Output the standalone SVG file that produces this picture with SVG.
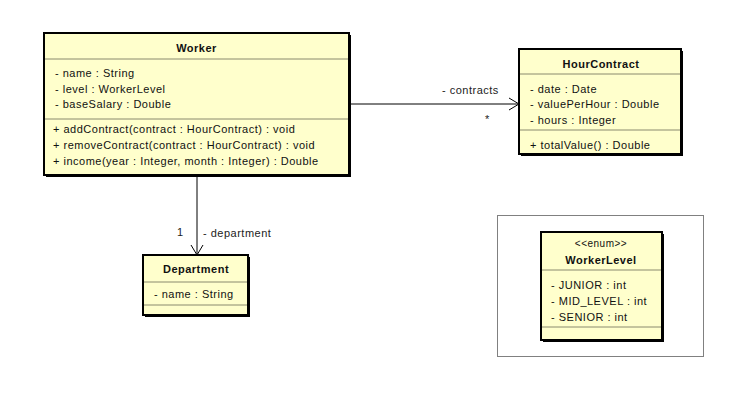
<svg xmlns="http://www.w3.org/2000/svg" width="734" height="405" viewBox="0 0 734 405">
<defs>
<style>
.box{fill:#FFFFCC;stroke:#000;stroke-width:2}
.shadow{fill:#000}
.sep{stroke:#8a8a6e;stroke-width:1}
text{font-family:"Liberation Sans",Arial,sans-serif;font-size:11px;fill:#111;letter-spacing:0.5px}
.title{font-weight:bold;text-anchor:middle}
.mid{text-anchor:middle}
.conn{stroke:#000;stroke-width:1;fill:none}
.lbl{fill:#222}
</style>
<marker id="open" markerUnits="userSpaceOnUse" markerWidth="14" markerHeight="14" viewBox="-12 -7 14 14" refX="0" refY="0" orient="auto">
<path d="M -10 -6 L 0 0 L -10 6" fill="none" stroke="#000" stroke-width="1"/>
</marker>
</defs>
<rect width="734" height="405" fill="#fff"/>

<g id="connectors">
<line class="conn" x1="351" y1="104" x2="519" y2="104" marker-end="url(#open)"/>
<text class="lbl" x="442" y="94">- contracts</text>
<text class="lbl" x="485" y="123">*</text>
<line class="conn" x1="197" y1="177" x2="197" y2="255" marker-end="url(#open)"/>
<text class="lbl" x="177" y="236">1</text>
<text class="lbl" x="203" y="237">- department</text>
</g>

<g id="Worker">
<rect class="shadow" x="46" y="35" width="305" height="142"/>
<rect class="box" x="44" y="33" width="305" height="142"/>
<line class="sep" x1="45" y1="59" x2="348" y2="59"/>
<line class="sep" x1="45" y1="119" x2="348" y2="119"/>
<text class="title" x="196.5" y="52">Worker</text>
<text x="55" y="77">- name : String</text>
<text x="55" y="93">- level : WorkerLevel</text>
<text x="55" y="108">- baseSalary : Double</text>
<text x="53" y="133">+ addContract(contract : HourContract) : void</text>
<text x="53" y="149">+ removeContract(contract : HourContract) : void</text>
<text x="53" y="165">+ income(year : Integer, month : Integer) : Double</text>
</g>

<g id="HourContract">
<rect class="shadow" x="521" y="51" width="162" height="105"/>
<rect class="box" x="519" y="49" width="162" height="105"/>
<line class="sep" x1="520" y1="74" x2="680" y2="74"/>
<line class="sep" x1="520" y1="130" x2="680" y2="130"/>
<text class="title" x="601" y="68">HourContract</text>
<text x="530" y="93">- date : Date</text>
<text x="530" y="108">- valuePerHour : Double</text>
<text x="530" y="124">- hours : Integer</text>
<text x="530" y="149">+ totalValue() : Double</text>
</g>

<g id="Department">
<rect class="shadow" x="145" y="257" width="105" height="60"/>
<rect class="box" x="143" y="255" width="105" height="60"/>
<line class="sep" x1="144" y1="282" x2="247" y2="282"/>
<line class="sep" x1="144" y1="305" x2="247" y2="305"/>
<text class="title" x="196" y="273">Department</text>
<text x="154" y="298">- name : String</text>
</g>

<g id="package">
<rect x="497.5" y="215.5" width="206" height="141" fill="none" stroke="#808080" stroke-width="1"/>
</g>

<g id="WorkerLevel">
<rect class="shadow" x="543" y="234" width="121" height="108"/>
<rect class="box" x="541" y="232" width="121" height="108"/>
<line class="sep" x1="542" y1="270" x2="661" y2="270"/>
<line class="sep" x1="542" y1="327" x2="661" y2="327"/>
<text class="mid" x="601" y="247" style="font-size:10px">&lt;&lt;enum&gt;&gt;</text>
<text class="title" x="601" y="264">WorkerLevel</text>
<text x="551" y="289">- JUNIOR : int</text>
<text x="551" y="305">- MID_LEVEL : int</text>
<text x="551" y="321">- SENIOR : int</text>
</g>
</svg>
